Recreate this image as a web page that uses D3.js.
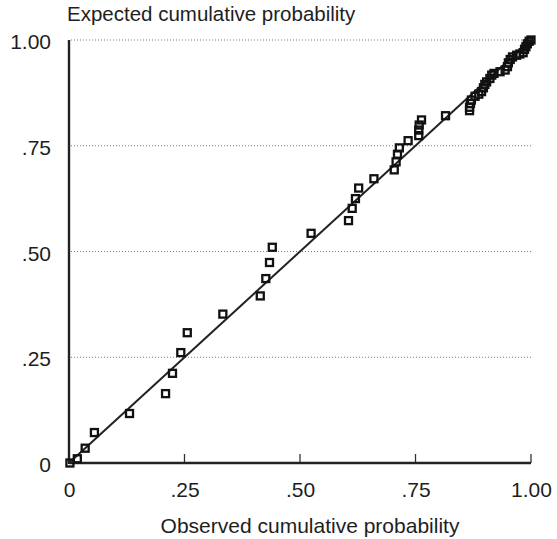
<!DOCTYPE html>
<html>
<head>
<meta charset="utf-8">
<script src="https://cdn.jsdelivr.net/npm/d3@7"></script>
<style>
  html, body { margin: 0; padding: 0; background: #fff; }
  svg { display: block; }
  text { font-family: "Liberation Sans", Arial, Helvetica, sans-serif; fill: #1e1e1e; }
</style>
</head>
<body>
<svg id="chart" width="557" height="539"></svg>
<script>
// Observed cumulative probability (x) of each case
const observed = [0.002, 0.018, 0.035, 0.055, 0.131, 0.209, 0.224, 0.242, 0.256, 0.333,
  0.414, 0.426, 0.434, 0.440, 0.524, 0.605, 0.613, 0.620, 0.627, 0.660,
  0.704, 0.708, 0.711, 0.715, 0.734, 0.757, 0.757, 0.758, 0.763, 0.815,
  0.867, 0.867, 0.869, 0.871, 0.879, 0.887, 0.893, 0.897, 0.900, 0.904,
  0.911, 0.915, 0.920, 0.933, 0.944, 0.949, 0.951, 0.955, 0.960, 0.969,
  0.976, 0.983, 0.986, 0.989, 0.992, 0.996, 1.000];
// Expected cumulative probability (y) of each case
const expected = [0.000, 0.010, 0.035, 0.072, 0.117, 0.164, 0.212, 0.261, 0.308, 0.352,
  0.395, 0.436, 0.474, 0.510, 0.543, 0.573, 0.602, 0.625, 0.650, 0.672,
  0.693, 0.712, 0.730, 0.745, 0.762, 0.774, 0.787, 0.799, 0.811, 0.821,
  0.833, 0.841, 0.850, 0.858, 0.867, 0.872, 0.878, 0.887, 0.895, 0.901,
  0.909, 0.917, 0.921, 0.925, 0.929, 0.937, 0.946, 0.954, 0.960, 0.964,
  0.967, 0.970, 0.978, 0.984, 0.991, 0.997, 1.000];
// Reference diagonal line
const lineX = [0, 1];
const lineY = [0, 1];
const xTicks = [0, 0.25, 0.5, 0.75, 1];
const xTickLabels = ["0", ".25", ".50", ".75", "1.00"];
const yTicks = [0, 0.25, 0.5, 0.75, 1];
const yTickLabels = ["0", ".25", ".50", ".75", "1.00"];
const xTitle = "Observed cumulative probability";
const yTitle = "Expected cumulative probability";

const svg = d3.select("#chart");
const x = d3.scaleLinear().domain([0, 1]).range([69, 531]);
const y = d3.scaleLinear().domain([0, 1]).range([463, 40]);

// gridlines (dotted)
svg.append("g").selectAll("line")
  .data(yTicks.filter(d => d > 0))
  .join("line")
  .attr("x1", x(0) + 2).attr("x2", x(1))
  .attr("y1", d => y(d)).attr("y2", d => y(d))
  .attr("stroke", "#777").attr("stroke-width", 1)
  .attr("stroke-dasharray", "1,2");

// y axis labels
svg.append("g").selectAll("text")
  .data(yTicks)
  .join("text")
  .attr("x", 51)
  .attr("y", (d) => y(d) + 9)
  .attr("text-anchor", "end")
  .attr("font-size", 21)
  .text((d, i) => yTickLabels[i]);

// x axis via d3.axisBottom with inward ticks
const xAxis = d3.axisBottom(x)
  .tickValues(xTicks)
  .tickSize(0)
  .tickFormat((d, i) => xTickLabels[i]);
const gx = svg.append("g").attr("transform", `translate(0,${y(0)})`).call(xAxis);
gx.select(".domain").remove();
gx.selectAll("text").attr("font-size", 21).attr("font-family", "Liberation Sans, Arial, sans-serif")
  .attr("fill", "#1e1e1e").attr("dy", 0).attr("y", 34);

// inward ticks
svg.append("g").selectAll("line")
  .data(xTicks.filter(d => d > 0))
  .join("line")
  .attr("x1", d => x(d)).attr("x2", d => x(d))
  .attr("y1", y(0)).attr("y2", y(0) - 9)
  .attr("stroke", "#333").attr("stroke-width", 1.3);

// axis lines
svg.append("line")
  .attr("x1", x(0)).attr("x2", x(1))
  .attr("y1", y(0)).attr("y2", y(0))
  .attr("stroke", "#222").attr("stroke-width", 2.4);
svg.append("line")
  .attr("x1", x(0)).attr("x2", x(0))
  .attr("y1", y(1)).attr("y2", y(0) + 1)
  .attr("stroke", "#222").attr("stroke-width", 2.4);

// reference line
svg.append("line")
  .attr("x1", x(lineX[0])).attr("y1", y(lineY[0]))
  .attr("x2", x(lineX[1])).attr("y2", y(lineY[1]))
  .attr("stroke", "#222").attr("stroke-width", 2);

// points
const pts = observed.map((o, i) => ({ o, e: expected[i] }));
svg.append("g").selectAll("rect")
  .data(pts)
  .join("rect")
  .attr("x", d => x(d.o) - 3.5)
  .attr("y", d => y(d.e) - 3.5)
  .attr("width", 7).attr("height", 7)
  .attr("fill", "none")
  .attr("stroke", "#111")
  .attr("stroke-width", 2.3);

// titles
svg.append("text")
  .attr("x", 67).attr("y", 21)
  .attr("font-size", 20.5)
  .text(yTitle);
svg.append("text")
  .attr("x", 310).attr("y", 533)
  .attr("text-anchor", "middle")
  .attr("font-size", 21)
  .text(xTitle);
</script>
</body>
</html>
